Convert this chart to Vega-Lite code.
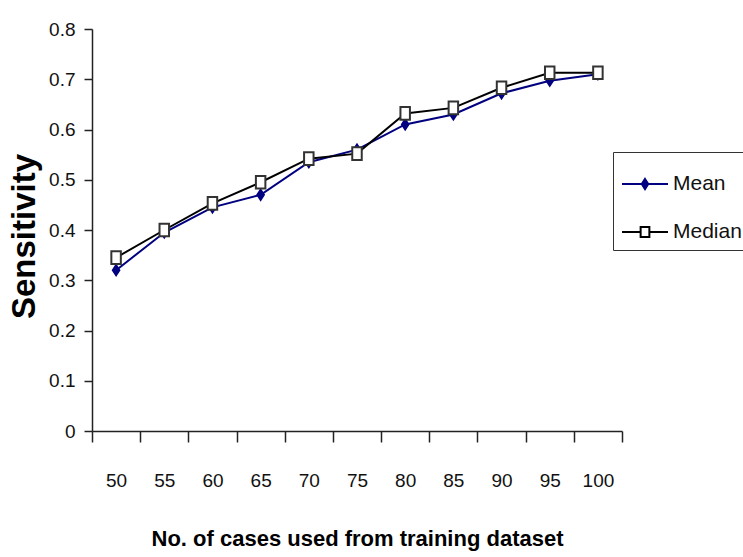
{
  "$schema": "https://vega.github.io/schema/vega-lite/v6.json",
  "autosize": "none",
  "width": 530,
  "height": 402,
  "padding": {"left": 92, "top": 29, "right": 121, "bottom": 126},
  "background": "white",
  "config": {
    "view": {"stroke": null},
    "font": "Liberation Sans",
    "axis": {
      "grid": false,
      "domainColor": "#222",
      "domainWidth": 1.5,
      "tickColor": "#222",
      "tickWidth": 1.5,
      "labelColor": "#111",
      "titleColor": "#000",
      "labelFont": "Liberation Sans",
      "titleFont": "Liberation Sans"
    }
  },
  "data": {
    "values": [
      {"n": 50, "series": "Mean", "value": 0.32},
      {"n": 55, "series": "Mean", "value": 0.395},
      {"n": 60, "series": "Mean", "value": 0.445},
      {"n": 65, "series": "Mean", "value": 0.47},
      {"n": 70, "series": "Mean", "value": 0.535},
      {"n": 75, "series": "Mean", "value": 0.56},
      {"n": 80, "series": "Mean", "value": 0.61},
      {"n": 85, "series": "Mean", "value": 0.63},
      {"n": 90, "series": "Mean", "value": 0.672},
      {"n": 95, "series": "Mean", "value": 0.697},
      {"n": 100, "series": "Mean", "value": 0.71},
      {"n": 50, "series": "Median", "value": 0.345},
      {"n": 55, "series": "Median", "value": 0.4},
      {"n": 60, "series": "Median", "value": 0.453},
      {"n": 65, "series": "Median", "value": 0.495},
      {"n": 70, "series": "Median", "value": 0.542},
      {"n": 75, "series": "Median", "value": 0.552},
      {"n": 80, "series": "Median", "value": 0.632},
      {"n": 85, "series": "Median", "value": 0.643},
      {"n": 90, "series": "Median", "value": 0.683},
      {"n": 95, "series": "Median", "value": 0.713},
      {"n": 100, "series": "Median", "value": 0.713}
    ]
  },
  "encoding": {
    "x": {
      "field": "n",
      "type": "ordinal",
      "scale": {"type": "band", "paddingInner": 0, "paddingOuter": 0},
      "axis": {
        "title": "No. of cases used from training dataset",
        "labelAngle": 0,
        "tickBand": "extent",
        "tickSize": 11,
        "labelFontSize": 19,
        "labelPadding": 29,
        "labelBaseline": "top",
        "titleFontSize": 22,
        "titleFontWeight": "bold",
        "titleX": 265,
        "titleY": 107,
        "titleAlign": "center",
        "titleBaseline": "middle"
      }
    },
    "y": {
      "field": "value",
      "type": "quantitative",
      "scale": {"domain": [0, 0.8], "nice": false, "zero": true},
      "axis": {
        "title": "Sensitivity",
        "values": [0, 0.1, 0.2, 0.3, 0.4, 0.5, 0.6, 0.7, 0.8],
        "labelExpr": "datum.value == 0 ? '0' : format(datum.value, '.1f')",
        "tickSize": 8,
        "labelFontSize": 19,
        "labelPadding": 9,
        "titleFontSize": 33,
        "titleFontWeight": "bold",
        "titleAngle": -90,
        "titleX": -68,
        "titleY": 207,
        "titleAlign": "center",
        "titleBaseline": "middle"
      }
    }
  },
  "layer": [
    {
      "mark": {"type": "line", "strokeWidth": 2},
      "encoding": {
        "stroke": {
          "field": "series",
          "type": "nominal",
          "scale": {"domain": ["Mean", "Median"], "range": ["#000080", "#000000"]},
          "legend": {
            "orient": "none",
            "legendX": 521,
            "legendY": 123,
            "title": null,
            "strokeColor": "#333",
            "padding": 8,
            "rowPadding": 14,
            "labelOffset": 4,
            "symbolSize": 2116,
            "labelFontSize": 21,
            "labelColor": "#111",
            "labelFont": "Liberation Sans",
            "encode": {
              "symbols": {
                "update": {
                  "shape": {"signal": "datum.value === 'Mean' ? 'M-1,0H1M0,-0.22L0.14,0L0,0.22L-0.14,0Z' : 'M-1,0H-0.19M0.19,0H1M-0.19,-0.22H0.19V0.22H-0.19Z'"},
                  "fill": {"signal": "datum.value === 'Mean' ? '#000080' : '#ffffff'"},
                  "stroke": {"signal": "datum.value === 'Mean' ? '#000080' : '#000000'"},
                  "strokeWidth": {"value": 2},
                  "size": {"value": 2116},
                  "opacity": {"value": 1}
                }
              }
            }
          }
        }
      }
    },
    {
      "transform": [{"filter": "datum.series === 'Mean'"}],
      "mark": {"type": "point", "filled": true, "shape": "M0,-1L0.65,0L0,1L-0.65,0Z", "size": 120, "fill": "#000080", "stroke": "#000080", "strokeWidth": 1.5, "opacity": 1}
    },
    {
      "transform": [{"filter": "datum.series === 'Median'"}],
      "mark": {"type": "point", "filled": true, "shape": "M-0.75,-1H0.75V1H-0.75Z", "size": 160, "fill": "#ffffff", "stroke": "#333333", "strokeWidth": 2, "opacity": 1}
    }
  ]
}
